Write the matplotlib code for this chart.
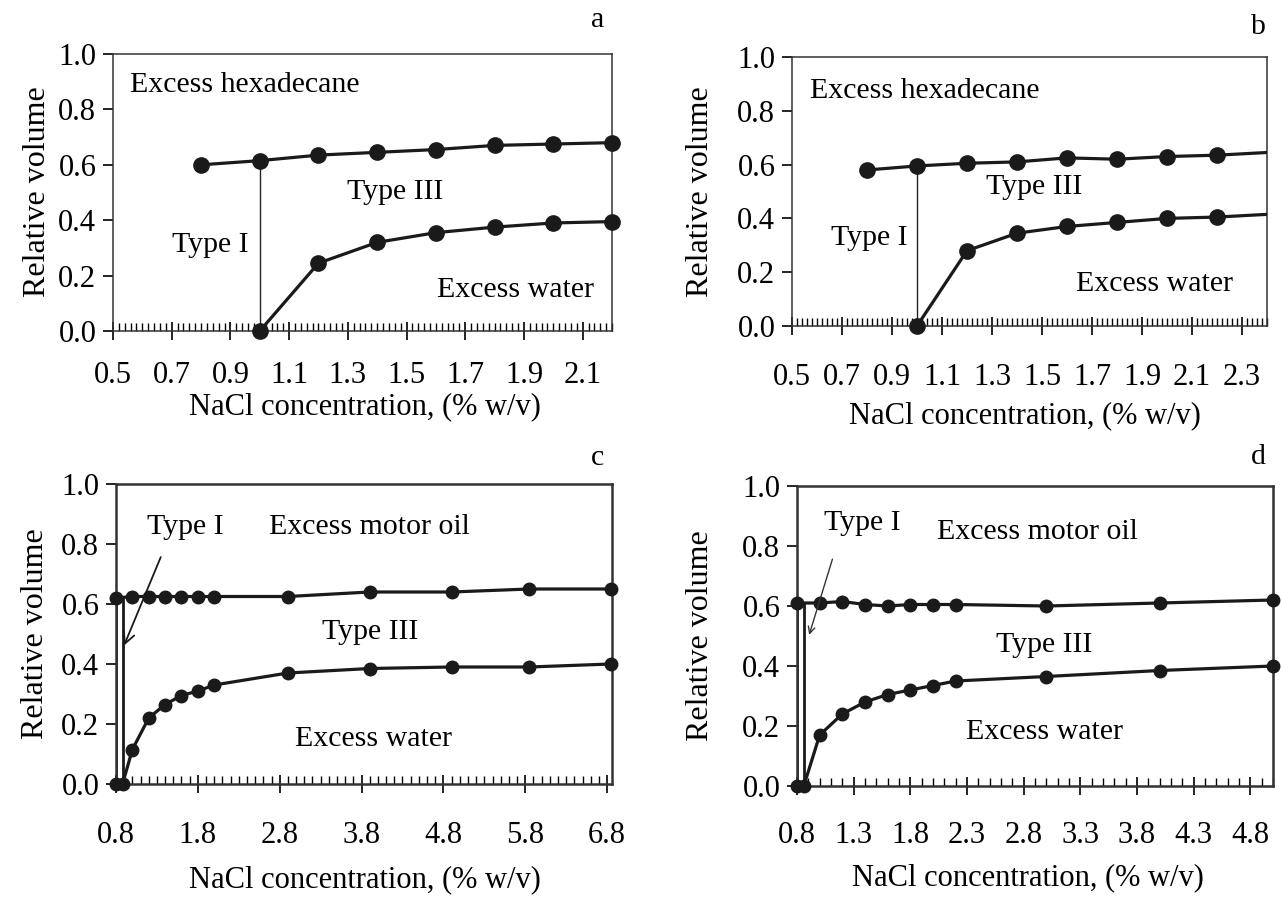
import numpy as np
import matplotlib
matplotlib.use("Agg")
import matplotlib.pyplot as plt
from matplotlib.ticker import MultipleLocator, FixedLocator, FormatStrFormatter

plt.rcParams['font.family'] = ['Liberation Serif', 'DejaVu Serif']

# ---- data ----
# a: hexadecane
xa_top = [0.8, 1.0, 1.2, 1.4, 1.6, 1.8, 2.0, 2.2]
ya_top = [0.60, 0.615, 0.635, 0.645, 0.655, 0.67, 0.675, 0.68]
xa_bot = [1.0, 1.2, 1.4, 1.6, 1.8, 2.0, 2.2]
ya_bot = [0.0, 0.245, 0.32, 0.355, 0.375, 0.39, 0.395]

# b: hexadecane
xb_top = [0.8, 1.0, 1.2, 1.4, 1.6, 1.8, 2.0, 2.2, 2.4]
yb_top = [0.58, 0.595, 0.605, 0.61, 0.625, 0.62, 0.63, 0.635, 0.645]
xb_bot = [1.0, 1.2, 1.4, 1.6, 1.8, 2.0, 2.2, 2.4]
yb_bot = [0.0, 0.28, 0.345, 0.37, 0.385, 0.40, 0.405, 0.415]

# c: motor oil
xc_top = [0.8, 1.0, 1.2, 1.4, 1.6, 1.8, 2.0, 2.9, 3.9, 4.9, 5.85, 6.85]
yc_top = [0.62, 0.625, 0.625, 0.625, 0.625, 0.625, 0.625, 0.625, 0.64, 0.64, 0.65, 0.65]
xc_bot = [0.8, 0.88, 1.0, 1.2, 1.4, 1.6, 1.8, 2.0, 2.9, 3.9, 4.9, 5.85, 6.85]
yc_bot = [0.0, 0.0, 0.115, 0.22, 0.265, 0.295, 0.31, 0.33, 0.37, 0.385, 0.39, 0.39, 0.40]

# d: motor oil
xd_top = [0.8, 1.0, 1.2, 1.4, 1.6, 1.8, 2.0, 2.2, 3.0, 4.0, 5.0]
yd_top = [0.61, 0.61, 0.615, 0.605, 0.60, 0.605, 0.605, 0.605, 0.60, 0.61, 0.62]
xd_bot = [0.8, 0.86, 1.0, 1.2, 1.4, 1.6, 1.8, 2.0, 2.2, 3.0, 4.0, 5.0]
yd_bot = [0.0, 0.0, 0.17, 0.24, 0.28, 0.305, 0.32, 0.335, 0.35, 0.365, 0.385, 0.40]

# boundaries between Type I and Type III
vline_a = (1.0, 0.615)
vline_b = (1.0, 0.595)
vlines_c = [(0.8, 0.62), (0.89, 0.62)]
vlines_d = [(0.8, 0.61), (0.86, 0.61)]

yticks = [0.0, 0.2, 0.4, 0.6, 0.8, 1.0]
xticks_a = [0.5, 0.7, 0.9, 1.1, 1.3, 1.5, 1.7, 1.9, 2.1]
xticks_b = [0.5, 0.7, 0.9, 1.1, 1.3, 1.5, 1.7, 1.9, 2.1, 2.3]
xticks_c = [0.8, 1.8, 2.8, 3.8, 4.8, 5.8, 6.8]
xticks_d = [0.8, 1.3, 1.8, 2.3, 2.8, 3.3, 3.8, 4.3, 4.8]

W, H = 1282, 899
fig = plt.figure(figsize=(W / 100, H / 100), dpi=100)


def px_axes(left, right, top, bottom):
    return fig.add_axes([left / W, 1 - bottom / H, (right - left) / W, (bottom - top) / H])


def style(ax, xlim, xticks, minor, spine_lw, xpad):
    ax.set_xlim(*xlim)
    ax.set_ylim(0, 1.0)
    ax.xaxis.set_major_locator(FixedLocator(xticks))
    ax.xaxis.set_minor_locator(MultipleLocator(minor))
    ax.yaxis.set_major_locator(FixedLocator(yticks))
    ax.xaxis.set_major_formatter(FormatStrFormatter('%.1f'))
    ax.yaxis.set_major_formatter(FormatStrFormatter('%.1f'))
    ax.tick_params(axis='x', which='major', direction='inout', length=13, width=1.2,
                   labelsize=22, pad=xpad)
    ax.tick_params(axis='x', which='minor', direction='in', length=6, width=1.0)
    ax.tick_params(axis='y', which='major', direction='out', length=7, width=1.2,
                   labelsize=22, pad=5)
    for s in ax.spines.values():
        s.set_linewidth(spine_lw)
        s.set_color('#333333')


def curve(ax, x, y, ms):
    ax.plot(x, y, '-', color='#1a1a1a', lw=2.3, marker='o', ms=ms, clip_on=False,
            zorder=3)


def labels(ax, xl_px, yl_px):
    fig.text(xl_px[0] / W, 1 - xl_px[1] / H, 'NaCl concentration, (% w/v)',
             ha='center', va='center', fontsize=22)
    fig.text(yl_px[0] / W, 1 - yl_px[1] / H, 'Relative volume', rotation=90,
             ha='center', va='center', fontsize=23)


TXT = 21.5

# ---- a ----
ax = px_axes(113, 612, 54, 331)
style(ax, (0.5, 2.2), xticks_a, 0.02, 1.1, 15)
curve(ax, xa_top, ya_top, 11)
curve(ax, xa_bot, ya_bot, 11)
ax.plot([vline_a[0]] * 2, [0, vline_a[1]], color='#222222', lw=1.0)
ax.text(0.95, 0.888, 'Excess hexadecane', ha='center', va='center', fontsize=TXT)
ax.text(1.46, 0.503, 'Type III', ha='center', va='center', fontsize=TXT)
ax.text(0.83, 0.31, 'Type I', ha='center', va='center', fontsize=TXT)
ax.text(1.87, 0.148, 'Excess water', ha='center', va='center', fontsize=TXT)
labels(ax, (365, 407), (38, 192))
fig.text(598 / W, 1 - 20 / H, 'a', ha='center', va='center', fontsize=TXT)

# ---- b ----
ax = px_axes(792, 1267, 57, 326)
style(ax, (0.5, 2.4), xticks_b, 0.02, 1.1, 20)
ax.plot(xb_top, yb_top, '-', color='#1a1a1a', lw=2.3, zorder=3)
ax.plot(xb_bot, yb_bot, '-', color='#1a1a1a', lw=2.3, zorder=3)
ax.plot(xb_top[:-1], yb_top[:-1], 'o', color='#1a1a1a', ms=11, zorder=3, clip_on=False)
ax.plot(xb_bot[:-1], yb_bot[:-1], 'o', color='#1a1a1a', ms=11, zorder=3, clip_on=False)
ax.plot([vline_b[0]] * 2, [0, vline_b[1]], color='#222222', lw=1.0)
ax.text(1.03, 0.875, 'Excess hexadecane', ha='center', va='center', fontsize=TXT)
ax.text(1.47, 0.518, 'Type III', ha='center', va='center', fontsize=TXT)
ax.text(0.81, 0.328, 'Type I', ha='center', va='center', fontsize=TXT)
ax.text(1.95, 0.157, 'Excess water', ha='center', va='center', fontsize=TXT)
labels(ax, (1025, 416), (701, 192))
fig.text(1258 / W, 1 - 27 / H, 'b', ha='center', va='center', fontsize=TXT)

# ---- c ----
ax = px_axes(116, 612, 484, 784)
style(ax, (0.8, 6.86), xticks_c, 0.1, 1.8, 20)
curve(ax, xc_top, yc_top, 9)
curve(ax, xc_bot, yc_bot, 9)
for xv, yv in vlines_c:
    ax.plot([xv, xv], [0, yv], color='#1a1a1a', lw=2.0)
ax.annotate('', xy=(0.885, 0.453), xytext=(1.36, 0.765),
            arrowprops=dict(arrowstyle='->', color='#1a1a1a', lw=1.3, mutation_scale=20))
ax.text(1.65, 0.855, 'Type I', ha='center', va='center', fontsize=TXT)
ax.text(3.9, 0.855, 'Excess motor oil', ha='center', va='center', fontsize=TXT)
ax.text(3.9, 0.508, 'Type III', ha='center', va='center', fontsize=TXT)
ax.text(3.95, 0.15, 'Excess water', ha='center', va='center', fontsize=TXT)
labels(ax, (365, 880), (36, 634))
fig.text(598 / W, 1 - 458 / H, 'c', ha='center', va='center', fontsize=TXT)

# ---- d ----
ax = px_axes(797, 1273, 486, 786)
style(ax, (0.8, 5.0), xticks_d, 0.1, 1.8, 19)
curve(ax, xd_top, yd_top, 9)
curve(ax, xd_bot, yd_bot, 9)
for xv, yv in vlines_d:
    ax.plot([xv, xv], [0, yv], color='#1a1a1a', lw=2.0)
ax.annotate('', xy=(0.9, 0.495), xytext=(1.12, 0.765),
            arrowprops=dict(arrowstyle='->', color='#333333', lw=1.0, mutation_scale=12))
ax.text(1.38, 0.875, 'Type I', ha='center', va='center', fontsize=TXT)
ax.text(2.92, 0.847, 'Excess motor oil', ha='center', va='center', fontsize=TXT)
ax.text(2.98, 0.471, 'Type III', ha='center', va='center', fontsize=TXT)
ax.text(2.98, 0.18, 'Excess water', ha='center', va='center', fontsize=TXT)
labels(ax, (1028, 878), (701, 636))
fig.text(1258 / W, 1 - 457 / H, 'd', ha='center', va='center', fontsize=TXT)

fig.savefig('out.png', dpi=100)
